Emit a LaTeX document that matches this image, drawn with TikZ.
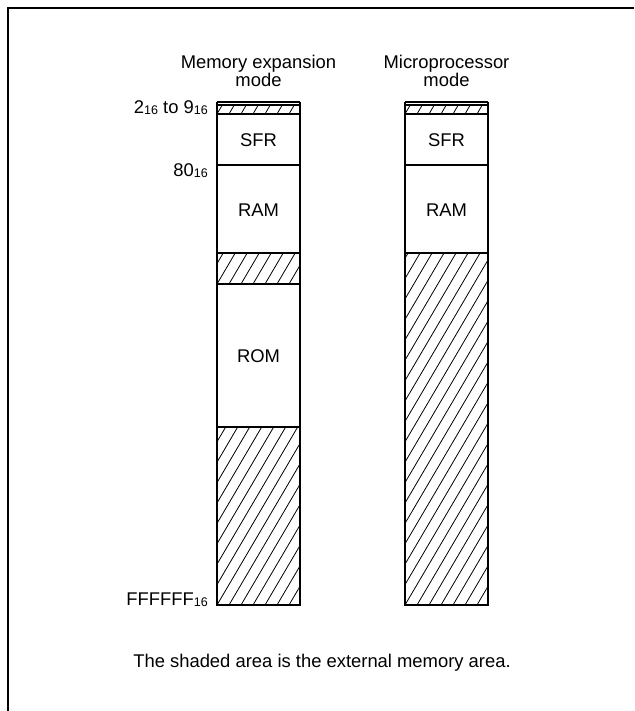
\documentclass[tikz,border=0pt]{standalone}
\usepackage{fontspec}
\setmainfont{Liberation Sans}
\newcommand\hexsub{\raisebox{-0.04em}{\fontsize{12.5}{12}\selectfont 16}}
\newcommand\hatchbox[4]{%
  \begin{scope}
    \clip (#1,#2) rectangle (#3,#4);
    \pgfmathsetmacro\hshift{(#4-#2)/1.7}
    \pgfmathsetmacro\hgt{#4-#2}
    \foreach \s in {-312,-300,...,120} {\draw[hatchline] ({#1+\s},#4) -- ++(\hshift,-\hgt);}
  \end{scope}
  \draw[boxline] (#1,#2) rectangle (#3,#4);}
\begin{document}
\begin{tikzpicture}[x=1pt,y=-1pt,
  boxline/.style={line width=1.6pt},
  hatchline/.style={line width=0.8pt},
  lbl/.style={font=\fontsize{18.4}{17}\selectfont, inner sep=0pt},
  title/.style={lbl, align=center}]
\useasboundingbox (0,0) rectangle (634,711);
\draw[line width=2.5pt] (8,711) -- (8,8) -- (634,8);

% column 1: memory expansion mode
\hatchbox{217}{105}{300}{114}
\draw[boxline] (217,102) -- (300,102);
\draw[boxline] (217,102) -- (217,105) (300,102) -- (300,105);
\draw[boxline] (217,114) rectangle (300,165);
\draw[boxline] (217,165) rectangle (300,253);
\hatchbox{217}{253}{300}{284}
\draw[boxline] (217,284) rectangle (300,427);
\hatchbox{217}{427}{300}{605}

% column 2: microprocessor mode
\hatchbox{405}{105}{488}{114}
\draw[boxline] (405,102) -- (488,102);
\draw[boxline] (405,102) -- (405,105) (488,102) -- (488,105);
\draw[boxline] (405,114) rectangle (488,165);
\draw[boxline] (405,165) rectangle (488,253);
\hatchbox{405}{253}{488}{605}

% texts
\node[title] (t1) at (258.5,71) {Memory expansion\\mode};
\node[title] (t2) at (446.5,71) {Microprocessor\\mode};
\node[lbl] (sfr1) at (258.5,140) {SFR};
\node[lbl] (ram1) at (258.5,210) {RAM};
\node[lbl] (rom1) at (258.5,356) {ROM};
\node[lbl] (sfr2) at (446.5,140) {SFR};
\node[lbl] (ram2) at (446.5,210) {RAM};
\node[lbl, anchor=east] (a1) at (208,108) {2\hexsub{} to 9\hexsub};
\node[lbl, anchor=east] (a2) at (208,171) {80\hexsub};
\node[lbl, anchor=east] (a3) at (208,600) {FFFFFF\hexsub};
\node[lbl] (note) at (322,663) {The shaded area is the external memory area.};
\end{tikzpicture}
\end{document}
